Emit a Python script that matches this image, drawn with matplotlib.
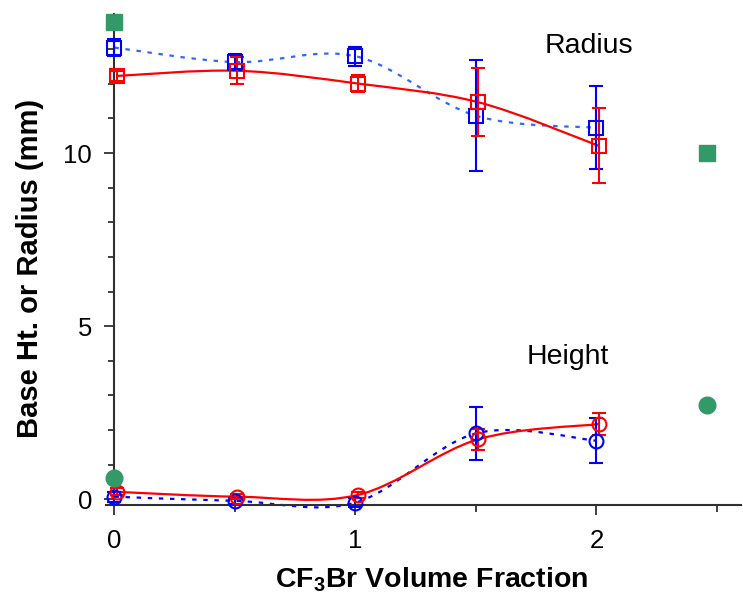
import numpy as np
import matplotlib
matplotlib.use("Agg")
import matplotlib.pyplot as plt
from matplotlib.path import Path
from matplotlib.patches import PathPatch
from matplotlib.ticker import MultipleLocator, FixedLocator

plt.rcParams['font.family'] = ['Liberation Sans', 'DejaVu Sans']
plt.rcParams['mathtext.fontset'] = 'custom'
plt.rcParams['mathtext.rm'] = 'Liberation Sans'
plt.rcParams['mathtext.bf'] = 'Liberation Sans:bold'

# ---- data ----
frac_blue = [0.0, 0.5, 1.0, 1.5, 2.0]
frac_red = [0.01, 0.51, 1.01, 1.51, 2.01]

radius_blue = [13.05, 12.63, 12.80, 11.08, 10.73]
radius_blue_err = [0.25, 0.22, 0.28, 1.60, 1.20]
radius_red = [12.23, 12.38, 12.01, 11.47, 10.21]
radius_red_err = [0.15, 0.39, 0.24, 0.98, 1.08]

height_blue = [0.07, -0.05, -0.10, 1.90, 1.69]
height_blue_err = [0.15, 0.08, 0.12, 0.77, 0.64]
height_red = [0.21, 0.07, 0.12, 1.73, 2.17]
height_red_err = [0.10, 0.08, 0.10, 0.30, 0.33]

ref_frac = [0.0, 2.46]
ref_radius = [13.79, 10.0]
ref_height = [0.60, 2.72]

xticks_major = [0, 1, 2]
yticks_major = [0, 5, 10]

RED = '#ff0000'
BLUE = '#0000ff'
BLUE_L = '#3366ff'
GREEN = '#339966'


def smooth_path(x, y, t=1/6.0):
    x = np.asarray(x, float); y = np.asarray(y, float)
    n = len(x)
    verts = [(x[0], y[0])]
    codes = [Path.MOVETO]
    for i in range(n - 1):
        ip = max(i - 1, 0); inn = min(i + 2, n - 1)
        c1 = (x[i] + (x[i + 1] - x[ip]) * t, y[i] + (y[i + 1] - y[ip]) * t)
        c2 = (x[i + 1] - (x[inn] - x[i]) * t, y[i + 1] - (y[inn] - y[i]) * t)
        verts += [c1, c2, (x[i + 1], y[i + 1])]
        codes += [Path.CURVE4] * 3
    return Path(verts, codes)


fig = plt.figure(figsize=(7.43, 5.97), dpi=100)
ax = fig.add_axes([106/743, (597-505)/597, 635/743, 491/597])
ax.set_xlim(-0.035, 2.6)
ax.set_ylim(-0.17, 14.02)

for side in ('top', 'right'):
    ax.spines[side].set_visible(False)
ax.spines['left'].set_position(('data', 0))
for side in ('left', 'bottom'):
    ax.spines[side].set_color('#303030')
    ax.spines[side].set_linewidth(1.5)

# lines (smoothed)
for xs, ys, col, ls in [(frac_blue, radius_blue, BLUE_L, (0, (2, 3))),
                        (frac_red, radius_red, RED, '-'),
                        (frac_blue, height_blue, BLUE, (0, (2, 3))),
                        (frac_red, height_red, RED, '-')]:
    ax.add_patch(PathPatch(smooth_path(xs, ys), fill=False, edgecolor=col,
                           lw=1.6, ls=ls, zorder=2, clip_on=False))

ekw = dict(ls='none', capsize=5, elinewidth=1.5, capthick=1.5, mfc='none',
           mew=1.5, clip_on=False, zorder=3)
ax.errorbar(frac_blue, radius_blue, yerr=radius_blue_err, marker='s', ms=10,
            color=BLUE, **ekw)
ax.errorbar(frac_red, radius_red, yerr=radius_red_err, marker='s', ms=10,
            color=RED, **ekw)
ax.errorbar(frac_blue, height_blue, yerr=height_blue_err, marker='o', ms=10,
            color=BLUE, **ekw)
ax.errorbar(frac_red, height_red, yerr=height_red_err, marker='o', ms=10,
            color=RED, **ekw)

ax.plot(ref_frac, ref_radius, ls='none', marker='s', ms=11.5, color=GREEN,
        clip_on=False, zorder=4)
ax.plot(ref_frac, ref_height, ls='none', marker='o', ms=12, color=GREEN,
        clip_on=False, zorder=4)

ax.text(1.97, 13.1, 'Radius', fontsize=20.5, ha='center', va='center')
ax.text(1.88, 4.1, 'Height', fontsize=20.5, ha='center', va='center')

ax.xaxis.set_major_locator(FixedLocator(xticks_major))
ax.xaxis.set_minor_locator(FixedLocator([0.5, 1.5, 2.5]))
ax.yaxis.set_major_locator(FixedLocator(yticks_major))
ax.yaxis.set_minor_locator(MultipleLocator(1))
ax.tick_params(which='both', direction='out', color='#303030', width=1.3,
               labelsize=18.5)
ax.tick_params(axis='x', which='major', length=7, pad=10)
ax.tick_params(axis='x', which='minor', length=5)
ax.tick_params(axis='y', which='major', length=7, pad=9)
ax.tick_params(axis='y', which='minor', length=4)

fig.text(432/743, 1 - 580/597, r'CF$_{\mathbf{3}}$Br Volume Fraction',
         fontsize=20.5, fontweight='bold', ha='center', va='center')
fig.text(30/743, 1 - 268/597, 'Base Ht. or Radius (mm)', fontsize=21,
         fontweight='bold', ha='center', va='center', rotation=90)

fig.savefig('out.png', dpi=100, facecolor='white')
